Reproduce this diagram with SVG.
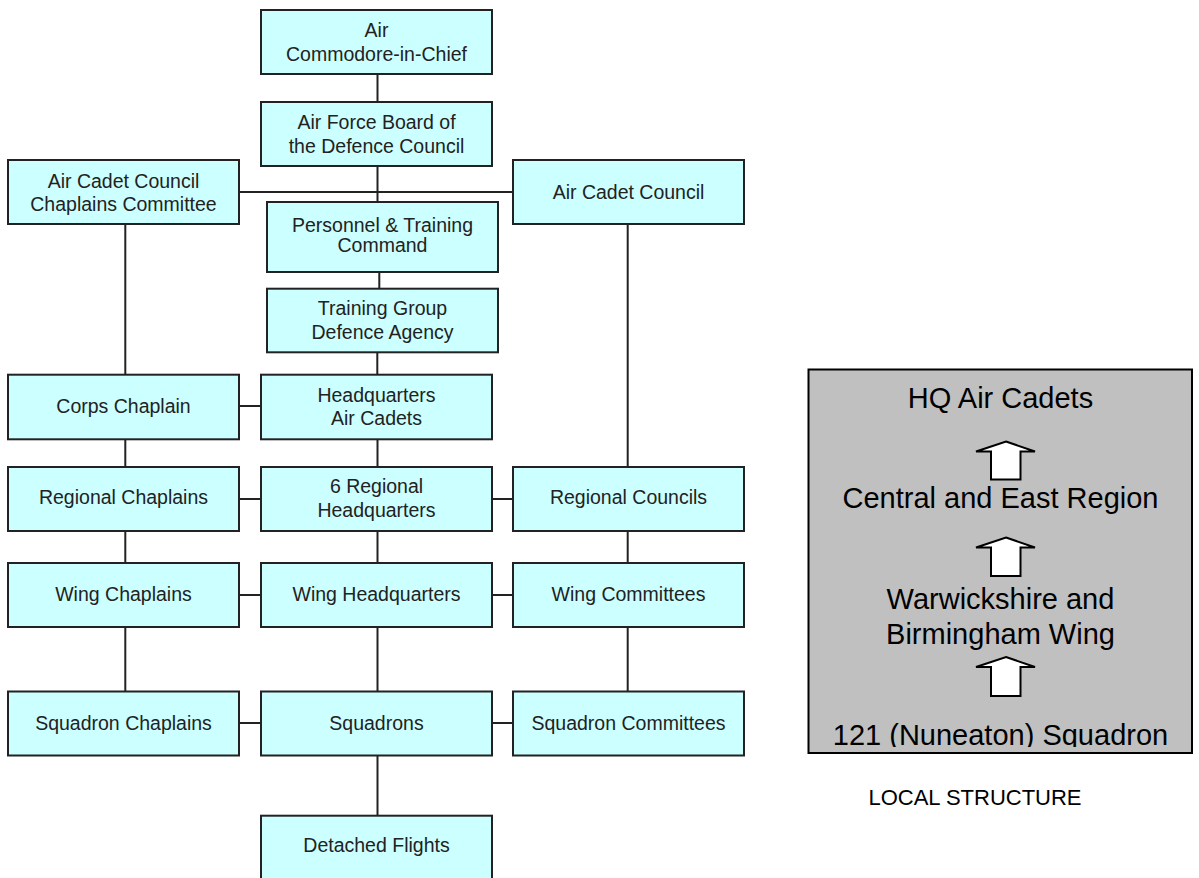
<svg xmlns="http://www.w3.org/2000/svg" width="1199" height="878" viewBox="0 0 1199 878">
  <style>
    .box { fill: #ccffff; stroke: #222; stroke-width: 2; }
    .t { font-family: "Liberation Sans", Arial, sans-serif; font-size: 19.5px; fill: #222; text-anchor: middle; }
    .conn line { stroke: #222; stroke-width: 2; }
    .lt { font-family: "Liberation Sans", Arial, sans-serif; font-size: 29px; fill: #000; text-anchor: middle; }
    .arrow { fill: #fff; stroke: #000; stroke-width: 2; stroke-linejoin: miter; }
    .cap { font-family: "Liberation Sans", Arial, sans-serif; font-size: 22px; fill: #000; text-anchor: middle; }
  </style>
  <defs>
    <clipPath id="localclip"><rect x="809" y="370" width="382" height="377"/></clipPath>
  </defs>
  <rect width="1199" height="878" fill="#fff"/>

  <g id="connectors" class="conn">
    <line x1="377.5" y1="74" x2="377.5" y2="102"/>
    <line x1="377.5" y1="166" x2="377.5" y2="202"/>
    <line x1="239" y1="192" x2="513" y2="192"/>
    <line x1="379.3" y1="272" x2="379.3" y2="289"/>
    <line x1="377.3" y1="352" x2="377.3" y2="375"/>
    <line x1="377.5" y1="439" x2="377.5" y2="467"/>
    <line x1="377.5" y1="531" x2="377.5" y2="563"/>
    <line x1="377.5" y1="627" x2="377.5" y2="691"/>
    <line x1="377.5" y1="756" x2="377.5" y2="816"/>
    <line x1="125.3" y1="224" x2="125.3" y2="374"/>
    <line x1="125.3" y1="439" x2="125.3" y2="467"/>
    <line x1="125.3" y1="531" x2="125.3" y2="563"/>
    <line x1="125.3" y1="627" x2="125.3" y2="691"/>
    <line x1="627.7" y1="224" x2="627.7" y2="467"/>
    <line x1="627.7" y1="531" x2="627.7" y2="563"/>
    <line x1="627.7" y1="627" x2="627.7" y2="691"/>
    <line x1="239" y1="406" x2="261" y2="406"/>
    <line x1="239" y1="499" x2="261" y2="499"/>
    <line x1="492" y1="499" x2="513" y2="499"/>
    <line x1="239" y1="595" x2="261" y2="595"/>
    <line x1="492" y1="595" x2="513" y2="595"/>
    <line x1="239" y1="723" x2="261" y2="723"/>
    <line x1="492" y1="723" x2="513" y2="723"/>
  </g>

  <g id="air-commodore">
    <rect class="box" x="261" y="10" width="231" height="64"/>
    <text class="t" x="376.5" y="36.7">Air</text>
    <text class="t" x="376.5" y="61">Commodore-in-Chief</text>
  </g>
  <g id="air-force-board">
    <rect class="box" x="261" y="102" width="231" height="64"/>
    <text class="t" x="376.5" y="129.3">Air Force Board of</text>
    <text class="t" x="376.5" y="152.7">the Defence Council</text>
  </g>
  <g id="acc-chaplains">
    <rect class="box" x="8" y="160" width="231" height="64"/>
    <text class="t" x="123.5" y="187.7">Air Cadet Council</text>
    <text class="t" x="123.5" y="210.7">Chaplains Committee</text>
  </g>
  <g id="air-cadet-council">
    <rect class="box" x="513" y="160" width="231" height="64"/>
    <text class="t" x="628.5" y="199.3">Air Cadet Council</text>
  </g>
  <g id="personnel-training">
    <rect class="box" x="267" y="202" width="231" height="70"/>
    <text class="t" x="382.5" y="231.7">Personnel &amp; Training</text>
    <text class="t" x="382.5" y="252.3">Command</text>
  </g>
  <g id="training-group">
    <rect class="box" x="267" y="288.7" width="231" height="63.6"/>
    <text class="t" x="382.5" y="315">Training Group</text>
    <text class="t" x="382.5" y="339">Defence Agency</text>
  </g>
  <g id="corps-chaplain">
    <rect class="box" x="8" y="374.7" width="231" height="64.6"/>
    <text class="t" x="123.5" y="413.3">Corps Chaplain</text>
  </g>
  <g id="hq-air-cadets">
    <rect class="box" x="261" y="374.7" width="231" height="64.6"/>
    <text class="t" x="376.5" y="401.7">Headquarters</text>
    <text class="t" x="376.5" y="425">Air Cadets</text>
  </g>
  <g id="regional-chaplains">
    <rect class="box" x="8" y="467" width="231" height="64"/>
    <text class="t" x="123.5" y="503.5">Regional Chaplains</text>
  </g>
  <g id="regional-hq">
    <rect class="box" x="261" y="467" width="231" height="64"/>
    <text class="t" x="376.5" y="493.3">6 Regional</text>
    <text class="t" x="376.5" y="517.3">Headquarters</text>
  </g>
  <g id="regional-councils">
    <rect class="box" x="513" y="467" width="231" height="64"/>
    <text class="t" x="628.5" y="503.5">Regional Councils</text>
  </g>
  <g id="wing-chaplains">
    <rect class="box" x="8" y="563" width="231" height="64"/>
    <text class="t" x="123.5" y="600.5">Wing Chaplains</text>
  </g>
  <g id="wing-hq">
    <rect class="box" x="261" y="563" width="231" height="64"/>
    <text class="t" x="376.5" y="600.5">Wing Headquarters</text>
  </g>
  <g id="wing-committees">
    <rect class="box" x="513" y="563" width="231" height="64"/>
    <text class="t" x="628.5" y="600.5">Wing Committees</text>
  </g>
  <g id="squadron-chaplains">
    <rect class="box" x="8" y="691.5" width="231" height="64"/>
    <text class="t" x="123.5" y="729.5">Squadron Chaplains</text>
  </g>
  <g id="squadrons">
    <rect class="box" x="261" y="691.5" width="231" height="64"/>
    <text class="t" x="376.5" y="729.5">Squadrons</text>
  </g>
  <g id="squadron-committees">
    <rect class="box" x="513" y="691.5" width="231" height="64"/>
    <text class="t" x="628.5" y="729.5">Squadron Committees</text>
  </g>
  <g id="detached-flights">
    <rect class="box" x="261" y="815.7" width="231" height="64"/>
    <text class="t" x="376.5" y="851.7">Detached Flights</text>
  </g>

  <g id="local-structure">
    <rect x="808.5" y="369.5" width="383.5" height="383.5" fill="#c0c0c0" stroke="#000" stroke-width="2"/>
    <g clip-path="url(#localclip)">
      <text class="lt" x="1000.5" y="407.7">HQ Air Cadets</text>
      <text class="lt" x="1000.5" y="508.3">Central and East Region</text>
      <text class="lt" x="1000.5" y="609.3">Warwickshire and</text>
      <text class="lt" x="1000.5" y="644">Birmingham Wing</text>
      <text class="lt" x="1000.5" y="745">121 (Nuneaton) Squadron</text>
    </g>
    <polygon class="arrow" points="1006,441.5 1035,451.5 1020.5,451.5 1020.5,479.5 991,479.5 991,451.5 976,451.5"/>
    <polygon class="arrow" points="1006,537.5 1035,547.5 1020.5,547.5 1020.5,576 991,576 991,547.5 976,547.5"/>
    <polygon class="arrow" points="1006,657 1035,667 1020.5,667 1020.5,696 991,696 991,667 976,667"/>
  </g>
  <g id="caption">
    <text class="cap" x="975" y="805">LOCAL STRUCTURE</text>
  </g>
</svg>
